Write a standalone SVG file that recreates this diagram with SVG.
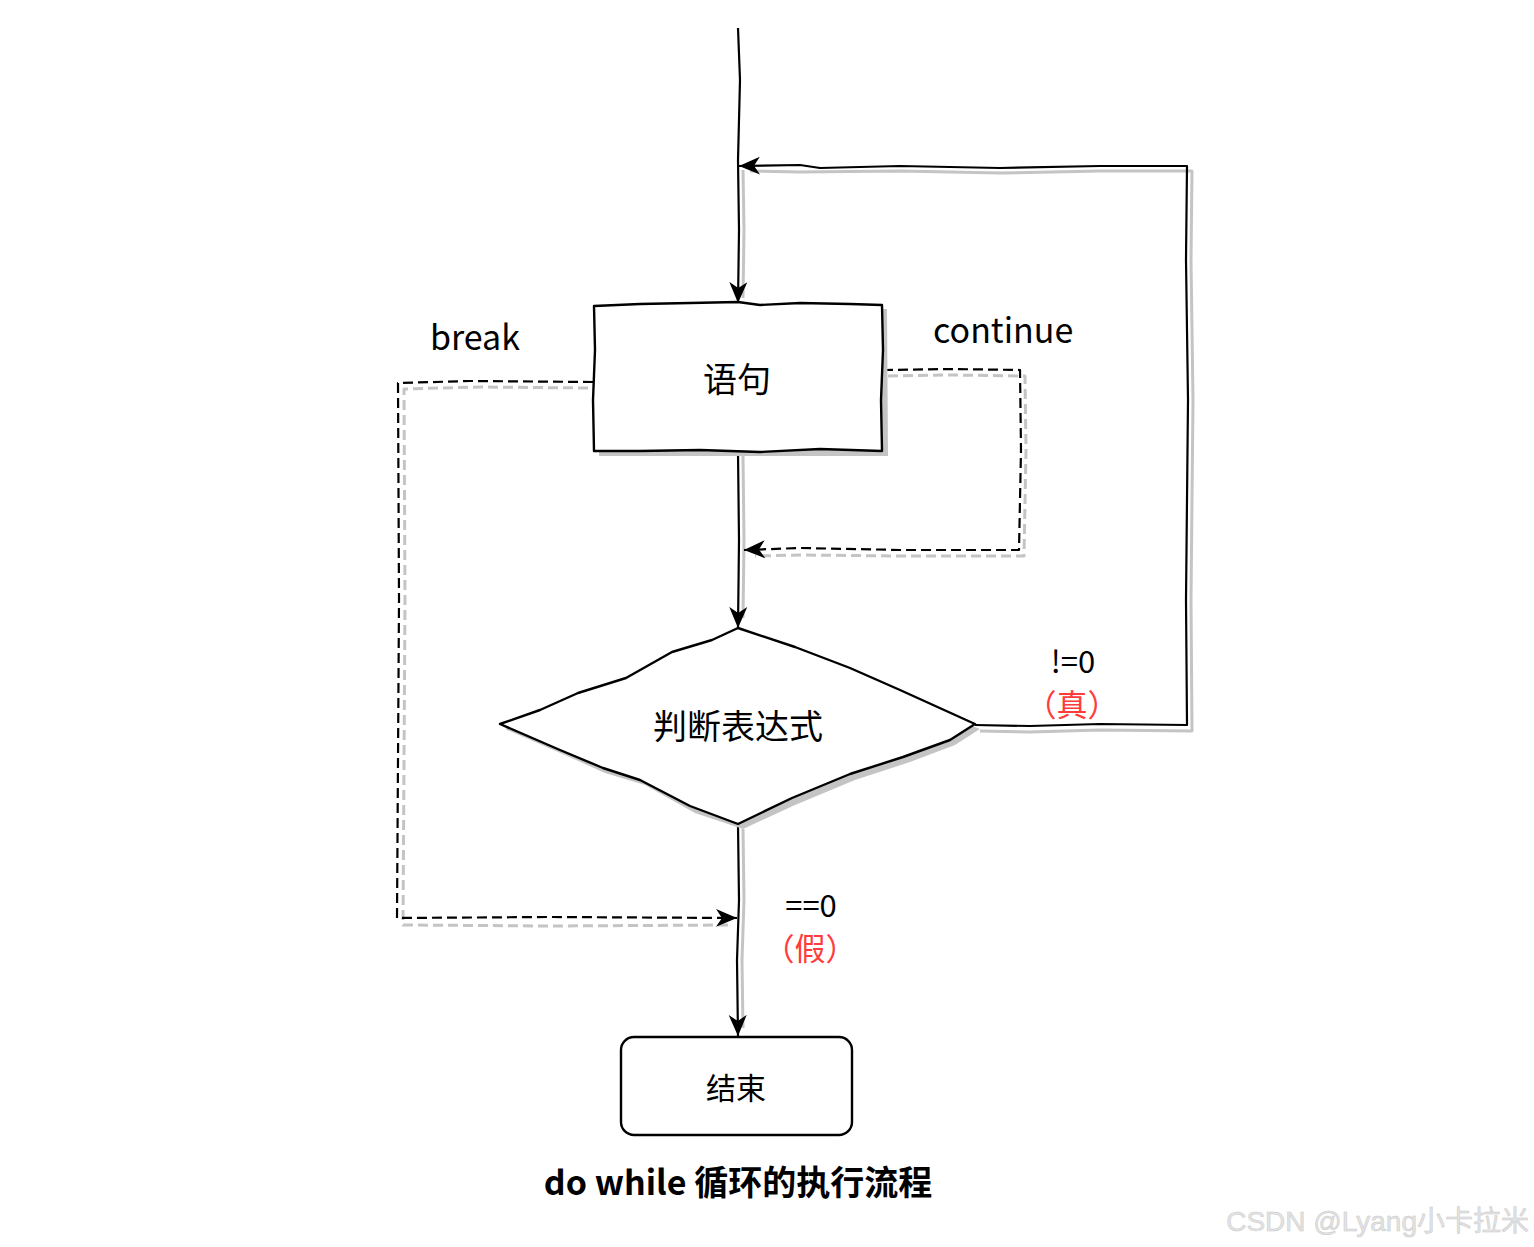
<svg xmlns="http://www.w3.org/2000/svg" width="1534" height="1247" viewBox="0 0 1534 1247">
<style>
.txt{font-family:"Noto Sans CJK SC","Noto Sans",sans-serif;fill:#000}
.red{fill:#ff3b3b}
.ln{fill:none;stroke:#000;stroke-width:2.2;stroke-linejoin:round}
.sh{fill:none;stroke:#c4c4c4;stroke-width:3;stroke-linejoin:round}
.dash{stroke-dasharray:10,5}
.shape{fill:#fff;stroke:#000;stroke-width:2.4;stroke-linejoin:round}
.shs{fill:#c4c4c4;stroke:none}
</style>
<defs>
<marker id="ah" markerUnits="userSpaceOnUse" markerWidth="24" markerHeight="22" refX="21" refY="11" orient="auto">
<path d="M0,2 L21,11 L0,20 L6,11 Z" fill="#000"/>
</marker>
</defs>
<rect width="1534" height="1247" fill="#fff"/>
<g id="connectors">
<path class="sh" d="M743,170 L744,230 L743,298"/>
<path class="sh" d="M980,731 L1030,732 L1100,730 L1192,731 L1191,600 L1193,400 L1191,260 L1192,171 L1100,171 L1000,173 L900,171 L800,172 L750,171"/>
<path class="sh" d="M743,456 L744,540 L743,618"/>
<path class="sh dash" d="M888,376 L950,375 L1025,376 L1026,450 L1024,556 L900,556 L800,555 L755,556"/>
<path class="sh dash" d="M588,388 L480,387 L404,389 L405,600 L403,925 L550,926 L728,925"/>
<path class="sh" d="M743,829 L744,900 L742,960 L743,1028"/>
<path class="ln" d="M738,28 L740,80 L738,160 L739,230 L738,303" marker-end="url(#ah)"/>
<path class="ln" d="M975,725 L1030,726 L1100,724 L1187,725 L1186,600 L1188,400 L1186,260 L1187,166 L1100,166 L1000,168 L900,166 L820,168 L800,165 L739,166" marker-end="url(#ah)"/>
<path class="ln" d="M738,452 L739,540 L738,628" marker-end="url(#ah)"/>
<path class="ln dash" d="M883,370 L950,369 L1020,370 L1021,450 L1019,550 L900,550 L800,548 L744,550" marker-end="url(#ah)"/>
<path class="ln dash" d="M593,382 L470,381 L398,383 L399,600 L397,918 L550,917 L737,918" marker-end="url(#ah)"/>
<path class="ln" d="M738,825 L739,900 L737,960 L738,1036" marker-end="url(#ah)"/>
</g>
<g id="node-stmt">
<path class="shs" d="M599,310 L887,309 L888,456 L599,456 Z"/>
<path class="shape" d="M594,306 L640,304 L690,303 L738,302 L760,305 L800,303 L850,304 L882,305 L883,350 L881,400 L882,451 L820,449 L760,452 L700,450 L640,451 L594,451 L593,400 L595,350 Z"/>
<text class="txt" x="737" y="392" font-size="34" text-anchor="middle">语句</text>
</g>
<g id="node-cond">
<path class="shs" d="M743,633 L980,729 L955,745 L910,762 L855,780 L795,805 L743,829 L695,813 L645,785 L605,773 L565,755 L505,729 Z"/>
<path class="shape" d="M738,628 L712,640 L672,652 L626,678 L578,693 L540,710 L500,724 L560,750 L603,768 L640,780 L690,806 L738,824 L792,798 L850,774 L903,757 L950,740 L975,724 L900,690 L850,668 L795,647 Z"/>
<text class="txt" x="738" y="739" font-size="34" text-anchor="middle">判断表达式</text>
</g>
<g id="node-end">
<rect x="621" y="1037" width="231" height="98" rx="13" class="shape"/>
<text class="txt" x="736" y="1099" font-size="30" text-anchor="middle">结束</text>
</g>
<g id="labels">
<text class="txt" x="430" y="350" font-size="34">break</text>
<text class="txt" x="933" y="343" font-size="34">continue</text>
<text class="txt" x="1073" y="673" font-size="31" text-anchor="middle">!=0</text>
<text class="txt red" x="1072" y="716" font-size="31" text-anchor="middle">（真）</text>
<text class="txt" x="811" y="917" font-size="31" text-anchor="middle">==0</text>
<text class="txt red" x="810" y="960" font-size="31" text-anchor="middle">（假）</text>
<text class="txt" x="738" y="1195" font-size="34" font-weight="bold" text-anchor="middle">do while 循环的执行流程</text>
<text x="1529" y="1231" font-size="28" text-anchor="end" font-family="'Liberation Sans','Noto Sans CJK SC',sans-serif" fill="#e4e4e4" stroke="#c8c8c8" stroke-width="0.5">CSDN @Lyang小卡拉米</text>
</g>
</svg>
